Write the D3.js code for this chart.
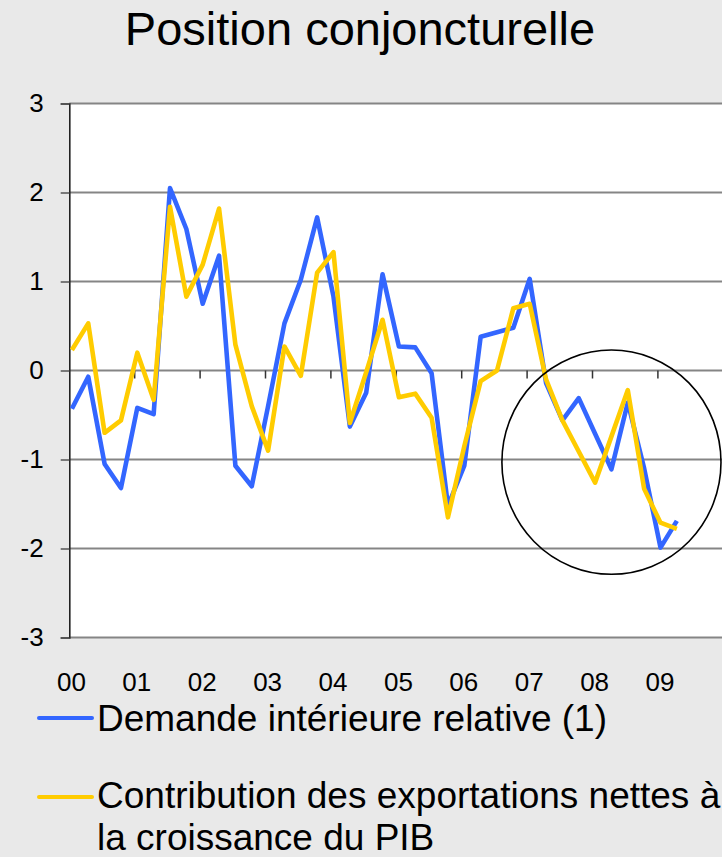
<!DOCTYPE html>
<html>
<head>
<meta charset="utf-8">
<script src="https://cdn.jsdelivr.net/npm/d3@7/dist/d3.min.js"></script>
<style>
  html, body { margin: 0; padding: 0; background: #e9e9e9; }
  svg { display: block; font-family: "Liberation Sans", Arial, sans-serif; }
</style>
</head>
<body>
<svg id="chart" width="722" height="857"></svg>
<script>
// ---- data ----
const title = "Position conjoncturelle";
const yearLabels = ["00", "01", "02", "03", "04", "05", "06", "07", "08", "09"];
const quarters = [];
for (const yy of yearLabels) for (const q of [1, 2, 3, 4]) quarters.push("20" + yy + "T" + q);
const quarterLabels = quarters.slice(0, 38); // 2000T1 .. 2009T2
const yTicks = [3, 2, 1, 0, -1, -2, -3];
const seriesNames = ["Demande intérieure relative (1)", "Contribution des exportations nettes à la croissance du PIB"];
const demandeInterieure = [-0.43, -0.07, -1.05, -1.32, -0.42, -0.49, 2.05, 1.59, 0.75, 1.29,
  -1.07, -1.30, -0.40, 0.53, 1.02, 1.72, 0.83, -0.63, -0.25, 1.08,
  0.27, 0.26, -0.03, -1.52, -1.07, 0.38, 0.43, 0.48, 1.03, -0.14,
  -0.56, -0.31, -0.71, -1.11, -0.36, -1.10, -1.99, -1.69];
const contributionExport = [0.23, 0.53, -0.70, -0.56, 0.20, -0.33, 1.84, 0.83, 1.19, 1.82,
  0.29, -0.40, -0.90, 0.27, -0.06, 1.10, 1.33, -0.59, -0.02, 0.57,
  -0.30, -0.26, -0.53, -1.65, -0.85, -0.12, 0.00, 0.70, 0.75, -0.10,
  -0.56, -0.91, -1.26, -0.74, -0.22, -1.33, -1.71, -1.78];
// annotation ellipse (in data units: quarter index / value)
const circleCenter = { q: 33.0, v: -1.03 };
const circleRadius = { q: 6.7, v: 1.26 };

// ---- layout ----
const svg = d3.select("#chart");
const W = 722, H = 857;
const plotLeft = 69.3, plotRight = 724, plotTop = 103.5, plotBottom = 637.5;
const x = d3.scaleLinear().domain([0, 40]).range([71.9, 71.9 + 654]);
const y = d3.scaleLinear().domain([-3, 3]).range([plotBottom, plotTop]);
const blue = "#3366ff", yellow = "#ffcc00";

svg.append("rect").attr("width", W).attr("height", H).attr("fill", "#e9e9e9");

// title
svg.append("text").attr("x", 360).attr("y", 45).attr("text-anchor", "middle")
  .attr("font-size", 47).attr("fill", "#000").text(title);

// plot area
svg.append("rect").attr("x", plotLeft).attr("y", plotTop)
  .attr("width", plotRight - plotLeft).attr("height", plotBottom - plotTop).attr("fill", "#fff");

// gridlines
svg.append("g").selectAll("line").data(yTicks).join("line")
  .attr("x1", plotLeft).attr("x2", plotRight)
  .attr("y1", d => y(d)).attr("y2", d => y(d))
  .attr("stroke", "#858585").attr("stroke-width", 2);

// y axis
const yAxis = d3.axisLeft(y).tickValues(yTicks).tickSize(8.6).tickPadding(17)
  .tickFormat(d => String(d));
const gy = svg.append("g").attr("transform", `translate(${plotLeft},0)`).call(yAxis);
gy.select(".domain").attr("stroke", "#222").attr("stroke-width", 1.6);
gy.selectAll(".tick line").attr("stroke", "#555").attr("stroke-width", 1.5);
gy.selectAll(".tick text").attr("font-size", 26).attr("fill", "#000")
  .attr("font-family", "'Liberation Sans', Arial, sans-serif");

// x ticks on zero line
const yearIdx = d3.range(1, 10).map(k => k * 4);
svg.append("g").selectAll("line").data(yearIdx).join("line")
  .attr("x1", d => x(d) - 2.6).attr("x2", d => x(d) - 2.6)
  .attr("y1", y(0)).attr("y2", y(0) + 8)
  .attr("stroke", "#333").attr("stroke-width", 1.5);

// x labels
svg.append("g").selectAll("text").data(yearLabels).join("text")
  .attr("x", (d, i) => x(i * 4) - 0.5).attr("y", 691)
  .attr("text-anchor", "middle").attr("font-size", 26).attr("fill", "#000")
  .text(d => d);

// lines
const line = d3.line().x((d, i) => x(i)).y(d => y(d));
svg.append("path").datum(demandeInterieure).attr("d", line)
  .attr("fill", "none").attr("stroke", blue).attr("stroke-width", 4.6)
  .attr("stroke-linejoin", "round");
svg.append("path").datum(contributionExport).attr("d", line)
  .attr("fill", "none").attr("stroke", yellow).attr("stroke-width", 4.6)
  .attr("stroke-linejoin", "round");

// annotation ellipse
svg.append("ellipse")
  .attr("cx", x(circleCenter.q)).attr("cy", y(circleCenter.v))
  .attr("rx", x(circleRadius.q) - x(0)).attr("ry", y(0) - y(circleRadius.v))
  .attr("fill", "none").attr("stroke", "#000").attr("stroke-width", 1.6);

// legend
const legend = svg.append("g");
const legendItems = [
  { color: blue, lines: [seriesNames[0]], ly: 718, base: 731 },
  { color: yellow, lines: ["Contribution des exportations nettes à", "la croissance du PIB"], ly: 797, base: 808 }
];
legendItems.forEach(it => {
  legend.append("line").attr("x1", 39).attr("x2", 92).attr("y1", it.ly).attr("y2", it.ly)
    .attr("stroke", it.color).attr("stroke-width", 4).attr("stroke-linecap", "round");
  it.lines.forEach((t, j) => {
    legend.append("text").attr("x", 97).attr("y", it.base + j * 41.5)
      .attr("font-size", 37).attr("fill", "#000").text(t);
  });
});
</script>
</body>
</html>
